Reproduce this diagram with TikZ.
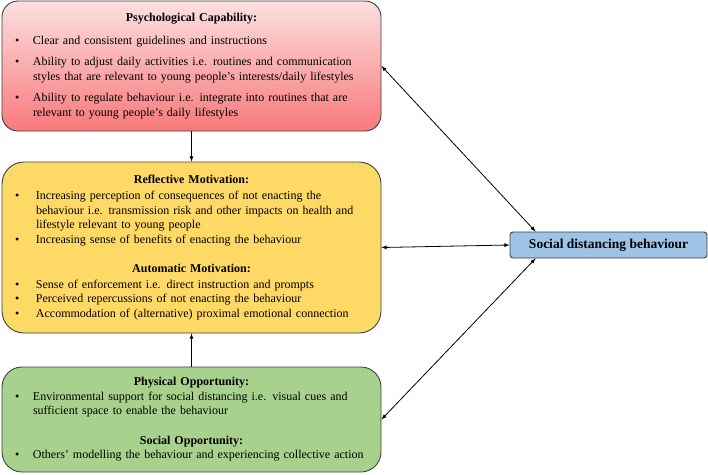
\documentclass[tikz,border=0pt]{standalone}
\usepackage{fontspec}
\setmainfont{Liberation Serif}
\definecolor{capred}{HTML}{F8797B}
\definecolor{caplight}{HTML}{FCE0E0}
\definecolor{motyellow}{HTML}{FFD966}
\definecolor{oppgreen}{HTML}{A9D18E}
\definecolor{behblue}{HTML}{9DC3E6}
\definecolor{edge}{HTML}{404040}
\newlength\bulindent
\newcommand{\bitem}[1]{\par\noindent\hangindent=\bulindent\hangafter=1\makebox[\bulindent][l]{\textbullet}#1\par}
\newcommand{\btitle}[1]{{\centering\textbf{#1}\par}}
\begin{document}
\begin{tikzpicture}[x=1pt, y=-1pt]
\tikzset{
  combox/.style={draw=edge, line width=0.9pt, text width=353pt, inner xsep=13pt, inner ysep=0pt,
    font=\fontsize{12}{14.5}\selectfont},
  link/.style={line width=0.8pt, black}
}
\useasboundingbox (0,0) rectangle (708,474);

% COM-B boxes
\node[combox, rounded corners=16pt, top color=caplight, bottom color=capred, minimum height=130pt] (capability) at (191.5, 66) {%
\rightskip=14pt\setlength\bulindent{18pt}%
\btitle{Psychological Capability:}\vspace{8pt}
\bitem{Clear and consistent guidelines and instructions}\vspace{7pt}
\bitem{{\parfillskip=0pt Ability to adjust daily activities i.e. routines and communication\linebreak styles that are relevant to young people’s interests/daily lifestyles\par}}\vspace{7pt}
\bitem{Ability to regulate behaviour i.e. integrate into routines that are\linebreak relevant to young people’s daily lifestyles}};

\node[combox, rounded corners=22pt, fill=motyellow, minimum height=171pt] (motivation) at (191.5, 247.5) {%
\rightskip=4pt\setlength\bulindent{21pt}\hyphenpenalty=10000%
\btitle{Reflective Motivation:}\vspace{1.5pt}
\bitem{Increasing perception of consequences of not enacting the\hfil\break behaviour i.e. transmission risk and other impacts on health and\linebreak lifestyle relevant to young people}
\bitem{Increasing sense of benefits of enacting the behaviour}\vspace{14.5pt}
\btitle{Automatic Motivation:}\vspace{1.5pt}
\bitem{Sense of enforcement i.e. direct instruction and prompts}
\bitem{Perceived repercussions of not enacting the behaviour}
\bitem{Accommodation of (alternative) proximal emotional connection}};

\node[combox, rounded corners=20pt, fill=oppgreen, minimum height=105pt] (opportunity) at (191.5, 419.5) {%
\rightskip=0pt\setlength\bulindent{18pt}\hyphenpenalty=10000%
\btitle{Physical Opportunity:}
\bitem{Environmental support for social distancing i.e. visual cues and\linebreak sufficient space to enable the behaviour}\vspace{15pt}
\btitle{Social Opportunity:}
\bitem{Others’ modelling the behaviour and experiencing collective action}};

% behaviour
\node[draw=edge, line width=0.9pt, rounded corners=3pt, fill=behblue, minimum width=197pt, minimum height=26pt,
  inner sep=0pt, font=\fontsize{13.5}{16}\selectfont\bfseries] (distancing) at (608.5, 245) {Social distancing behaviour};

% links
\draw[link, -latex] (capability.south) -- (motivation.north);
\draw[link, -latex] (opportunity.north) -- (motivation.south);
\draw[link, latex-latex] (capability.east) -- ([xshift=26pt]distancing.north west);
\draw[link, latex-latex] (motivation.east) -- (distancing.west);
\draw[link, latex-latex] (opportunity.east) -- ([xshift=26pt]distancing.south west);
\end{tikzpicture}
\end{document}
